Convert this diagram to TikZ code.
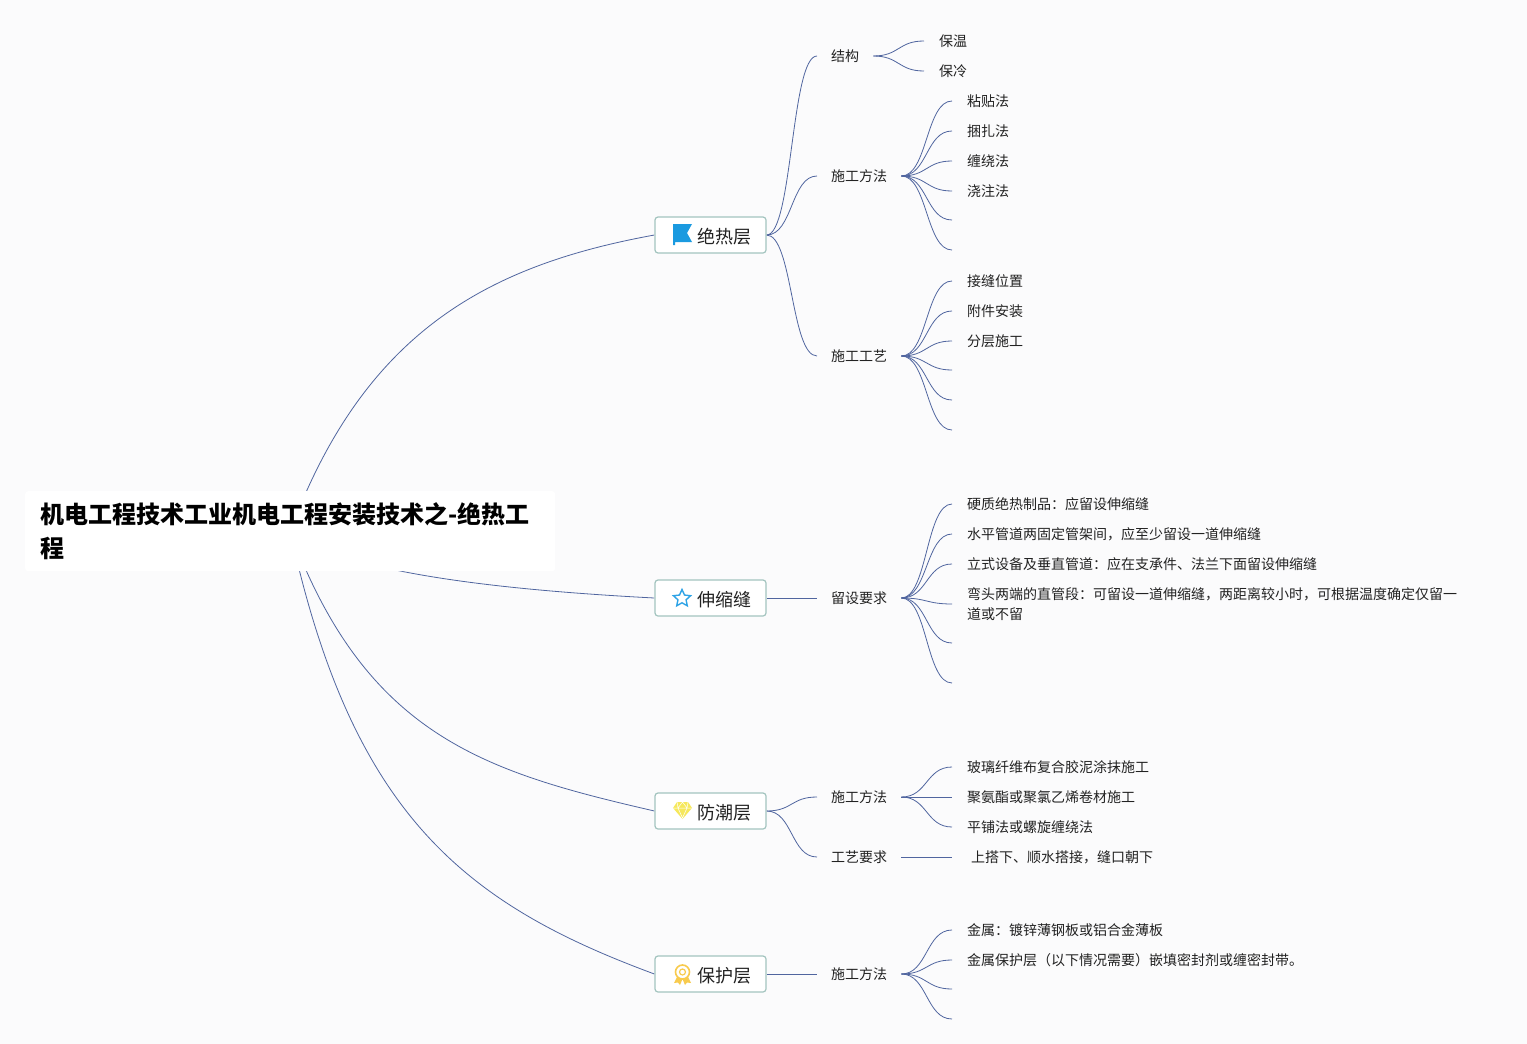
\documentclass[tikz,border=0pt]{standalone}
\usepackage{fontspec}
\setmainfont{Noto Sans CJK SC}
\usetikzlibrary{backgrounds,shapes.geometric}

\definecolor{paper}{HTML}{FBFBFC}
\definecolor{linkblue}{HTML}{50659F}
\definecolor{boxedge}{HTML}{A3C4BF}
\definecolor{inkdark}{HTML}{222222}
\definecolor{flagblue}{HTML}{1A9AE0}
\definecolor{starblue}{HTML}{2EA3E6}
\definecolor{gemyellow}{HTML}{F6E85C}
\definecolor{medalgold}{HTML}{F8CB4E}

\begin{document}
\begin{tikzpicture}[%
    x=1pt,
    y=-1pt,
    root/.style={%
      anchor=north west,      % placed by its corner
      fill=white,             % white plate
      rounded corners=3pt,
      text width=500pt,       % wide title
      inner xsep=15pt,
      inner ysep=0pt,
      minimum height=80pt,
      align=left,
      text=black,
      font=\fontsize{24}{34}\selectfont\bfseries
    },
    theme/.style={%
      rectangle,
      fill=white,             % white box
      draw=boxedge,           % outside edge in grey green
      line width=1.2pt,
      rounded corners=3pt,
      minimum width=111pt,
      minimum height=36pt,
      inner sep=0pt,
      text height=19pt,
      text depth=2.2pt,
      text=inkdark,
      font=\fontsize{18}{22}\selectfont
    },
    topic/.style={%
      anchor=west,            % the link ends on the left side
      inner xsep=14pt,
      inner ysep=0pt,
      text height=13pt,
      text depth=2pt,
      text=inkdark,
      font=\fontsize{14}{20}\selectfont
    },
    leaf/.style={%
      anchor=west,            % the link ends on the left side
      inner xsep=15pt,
      inner ysep=0pt,
      align=left,
      text=inkdark,
      font=\fontsize{14}{20}\selectfont
    },
    link/.style={%
      draw=linkblue,
      line width=0.8pt
    },
    bend/.style={%
      link,
      to path={.. controls +(#1,0) and +(-#1,0) .. (\tikztotarget)}
    },
    bend/.default=26
]

    % nodes
    \node at (25,491) [root] (title)
    {机电工程技术工业机电工程安装技术之-绝热工\\程};

    \node at (710.5,235) [theme] (insulation) {\hspace*{27pt}绝热层};
    \node at (710.5,598) [theme] (expansion)  {\hspace*{27pt}伸缩缝};
    \node at (710.5,811) [theme] (moisture)   {\hspace*{27pt}防潮层};
    \node at (710.5,974) [theme] (cover)      {\hspace*{27pt}保护层};

    \node at (817,56)  [topic] (structure)  {结构};
    \node at (817,176) [topic] (method)     {施工方法};
    \node at (817,356) [topic] (craft)      {施工工艺};
    \node at (817,598) [topic] (demand)     {留设要求};
    \node at (817,797) [topic] (moistmeth)  {施工方法};
    \node at (817,857) [topic] (moistreq)   {工艺要求};
    \node at (817,974) [topic] (covermeth)  {施工方法};

    \node at (924,41)  [leaf] (warm)   {保温};
    \node at (924,71)  [leaf] (cold)   {保冷};

    \node at (952,101) [leaf] (paste)  {粘贴法};
    \node at (952,131) [leaf] (bundle) {捆扎法};
    \node at (952,161) [leaf] (wind)   {缠绕法};
    \node at (952,191) [leaf] (pour)   {浇注法};
    \coordinate (methodE) at (952,220);
    \coordinate (methodF) at (952,250);

    \node at (952,281) [leaf] (joint)  {接缝位置};
    \node at (952,311) [leaf] (attach) {附件安装};
    \node at (952,341) [leaf] (layer)  {分层施工};
    \coordinate (craftD) at (952,370);
    \coordinate (craftE) at (952,400);
    \coordinate (craftF) at (952,430);

    \node at (952,504) [leaf] (hard)   {硬质绝热制品：应留设伸缩缝};
    \node at (952,534) [leaf] (level)  {水平管道两固定管架间，应至少留设一道伸缩缝};
    \node at (952,564) [leaf] (upright) {立式设备及垂直管道：应在支承件、法兰下面留设伸缩缝};
    \node at (952,604) [leaf] (elbow)
    {弯头两端的直管段：可留设一道伸缩缝，两距离较小时，可根据温度确定仅留一\\道或不留};
    \coordinate (demandE) at (952,643);
    \coordinate (demandF) at (952,683);

    \node at (952,767) [leaf] (glass)  {玻璃纤维布复合胶泥涂抹施工};
    \node at (952,797) [leaf] (roll)   {聚氨酯或聚氯乙烯卷材施工};
    \node at (952,827) [leaf] (flat)   {平铺法或螺旋缠绕法};
    \node at (952,857) [leaf] (lap)    {\hspace*{4pt}上搭下、顺水搭接，缝口朝下};

    \node at (952,930) [leaf] (metal)  {金属：镀锌薄钢板或铝合金薄板};
    \node at (952,960) [leaf] (seal)   {金属保护层（以下情况需要）嵌填密封剂或缠密封带。};
    \coordinate (coverC) at (952,989);
    \coordinate (coverD) at (952,1019);

    % icons
    \fill[flagblue]
    (673,224) -- (692,224) -- (687,233) -- (692,242) -- (675,242)
    -- (675,245) -- (673,245) -- cycle;

    \node at (682,598.5) [star, star points=5, star point ratio=2.1, draw=starblue,
      line width=1.4pt, fill=white, minimum size=18pt, inner sep=0pt] (staricon) {};

    \fill[gemyellow]
    (677,802) -- (688,802) -- (692,808) -- (682.5,819) -- (673,808) -- cycle;
    \draw[white, line width=0.5pt]
    (673,808) -- (692,808) (678,808) -- (682.5,818) -- (687,808)
    (677,802) -- (678,808) -- (682.5,802) -- (687,808) -- (688,802);

    \fill[medalgold] (677,977) -- (674,983) -- (678,982.5) -- (680,985) -- (682.5,979) -- (685,985)
    -- (687,982.5) -- (691,983) -- (688,977) -- cycle;
    \draw[medalgold, fill=white, line width=1.6pt] (682.5,972) circle (7pt);
    \draw[medalgold, line width=1.2pt] (682.5,972) circle (3pt);

    % connections
    \begin{scope}[on background layer]
      \fill[paper] (0,0) rectangle (1527,1044);

      \draw[link] (title.center) .. controls (365,330) and (490,265) .. (insulation.west);
      \draw[link] (title.center) .. controls (345,575) and (520,591) .. (expansion.west);
      \draw[link] (title.center) .. controls (366,736) and (485,772) .. (moisture.west);
      \draw[link] (title.center) .. controls (352,815) and (465,904) .. (cover.west);

      \draw[bend] (insulation.east) to (structure.west);
      \draw[bend] (insulation.east) to (method.west);
      \draw[bend] (insulation.east) to (craft.west);
      \draw[link] (expansion.east) -- (demand.west);
      \draw[bend] (moisture.east) to (moistmeth.west);
      \draw[bend] (moisture.east) to (moistreq.west);
      \draw[link] (cover.east) -- (covermeth.west);

      \draw[bend] (structure.east) to (warm.west);
      \draw[bend] (structure.east) to (cold.west);

      \draw[bend] (method.east) to (paste.west);
      \draw[bend] (method.east) to (bundle.west);
      \draw[bend] (method.east) to (wind.west);
      \draw[bend] (method.east) to (pour.west);
      \draw[bend] (method.east) to (methodE);
      \draw[bend] (method.east) to (methodF);

      \draw[bend] (craft.east) to (joint.west);
      \draw[bend] (craft.east) to (attach.west);
      \draw[bend] (craft.east) to (layer.west);
      \draw[bend] (craft.east) to (craftD);
      \draw[bend] (craft.east) to (craftE);
      \draw[bend] (craft.east) to (craftF);

      \draw[bend] (demand.east) to (hard.west);
      \draw[bend] (demand.east) to (level.west);
      \draw[bend] (demand.east) to (upright.west);
      \draw[bend] (demand.east) to (elbow.west);
      \draw[bend] (demand.east) to (demandE);
      \draw[bend] (demand.east) to (demandF);

      \draw[bend] (moistmeth.east) to (glass.west);
      \draw[link] (moistmeth.east) -- (roll.west);
      \draw[bend] (moistmeth.east) to (flat.west);
      \draw[link] (moistreq.east) -- (lap.west);

      \draw[bend] (covermeth.east) to (metal.west);
      \draw[bend] (covermeth.east) to (seal.west);
      \draw[bend] (covermeth.east) to (coverC);
      \draw[bend] (covermeth.east) to (coverD);
    \end{scope}

\end{tikzpicture}
\end{document}
